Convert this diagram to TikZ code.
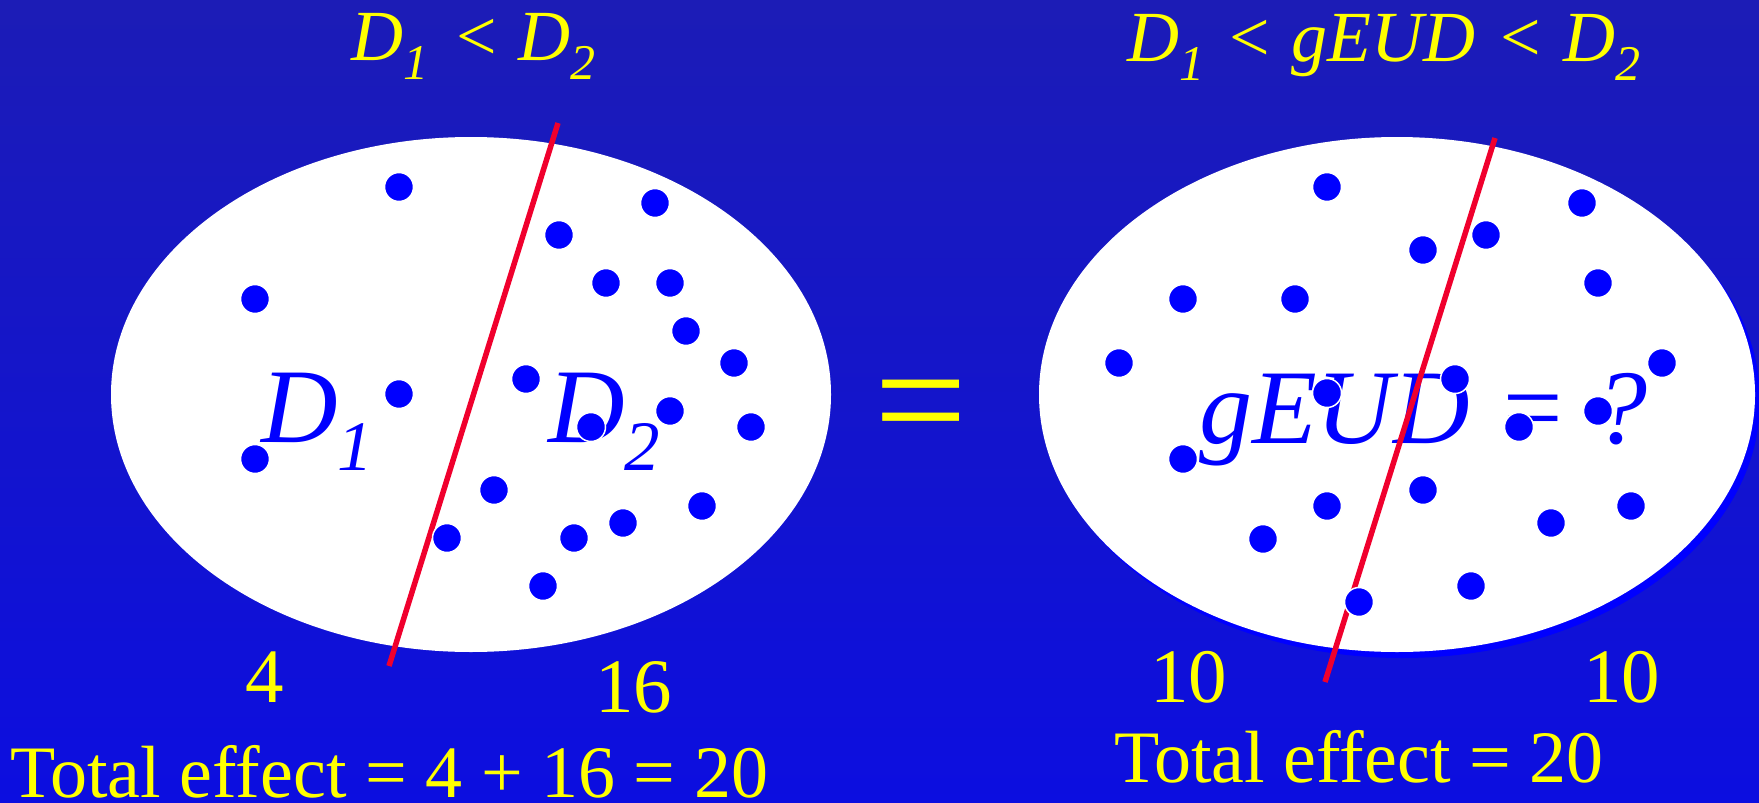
\documentclass[tikz,border=0pt]{standalone}
\usepackage{fontspec}
\setmainfont{Liberation Serif}
\usetikzlibrary{shapes.geometric}
\definecolor{bgtop}{RGB}{28,28,182}
\definecolor{bgmid}{RGB}{38,38,218}
\definecolor{bgbot}{RGB}{12,14,224}
\definecolor{dotblue}{RGB}{0,0,255}
\definecolor{redline}{RGB}{240,0,45}
\definecolor{yel}{RGB}{255,255,0}
\tikzset{
  blob/.style={ellipse, fill=white, minimum width=720pt, minimum height=515pt, inner sep=0pt},
  blobshadow/.style={ellipse, fill=dotblue, minimum width=716pt, minimum height=515pt, inner sep=0pt},
  dot/.style={circle, fill=dotblue, draw=white, line width=1.5pt, minimum size=29pt, inner sep=0pt},
  cutline/.style={draw=redline, line width=5.5pt},
  bigtxt/.style={anchor=base west, inner sep=0pt, text=dotblue, font=\fontsize{106}{110}\selectfont\itshape},
  ytxt/.style={anchor=base west, inner sep=0pt, text depth=0pt, text=yel, font=\fontsize{74}{80}\selectfont},
  numtxt/.style={anchor=base west, inner sep=0pt, text depth=0pt, text=yel, font=\fontsize{77}{80}\selectfont},
  ttl/.style={anchor=base west, inner sep=0pt, text=yel, font=\fontsize{72}{76}\selectfont}
}
\newcommand{\bigsub}[1]{\raisebox{-28pt}{\fontsize{71}{71}\selectfont\itshape #1}}
\newcommand{\ttlsub}[1]{\raisebox{-19pt}{\fontsize{50}{50}\selectfont\itshape #1}}
\newcommand{\lessgap}[2]{\hspace{#1}<\hspace{#2}}
\begin{document}
\begin{tikzpicture}[x=1pt,y=-1pt]
\useasboundingbox (0,0) rectangle (1759,803);
\shade[top color=bgtop, middle color=bgmid, bottom color=bgbot] (0,0) rectangle (1759,803);

% titles
\node[ttl] (t1) at (351,60) {\textit{D}\ttlsub{1}\lessgap{28pt}{22pt}\textit{D}\ttlsub{2}};
\node[ttl] (t2) at (1127,61) {\textit{D}\ttlsub{1}\lessgap{25pt}{22pt}\textit{gEUD}\lessgap{25pt}{22pt}\textit{D}\ttlsub{2}};

% ellipses
\node[blob] (e1) at (471,394.5) {};
\node[blobshadow] (e2s) at (1402,400.5) {};
\node[blob, minimum width=716pt] (e2) at (1397,394.5) {};

% big labels
\node[bigtxt] (d1) at (261,442) {D\bigsub{1}};
\node[bigtxt] (d2) at (548,442) {D\bigsub{2}};
\node[bigtxt] (geud) at (1199,443) {gEUD = ?};

% equals sign
\node[anchor=base, inner sep=0pt, text=yel, font=\fontsize{165}{170}\selectfont] (eq) at (921.5,455) {=};

% red lines
\coordinate (r1a) at (558,123);
\coordinate (r1b) at (389,666);
\coordinate (r2a) at (1495,138);
\coordinate (r2b) at (1325,682);
\draw[cutline] (r1a) -- (r1b);
\draw[cutline] (r2a) -- (r2b);

% left dots (4 | 16)
\foreach \p [count=\i] in {(399,187),(255,299),(399,394),(255,459),
  (655,203),(559,235),(606,283),(670,283),(686,331),(734,363),(526,379),(591,427),
  (670,411),(751,427),(494,490),(447,538),(574,538),(623,523),(702,506),(543,586)}
  \node[dot] (ld\i) at \p {};

% right dots
\foreach \p [count=\i] in {(1327,187),(1183,299),(1295,299),(1423,250),(1486,235),(1582,203),
  (1598,283),(1119,363),(1662,363),(1455,379),(1327,393),(1598,411),(1519,427),(1183,459),
  (1327,506),(1423,490),(1263,539),(1551,523),(1631,506),(1471,586),(1359,602)}
  \node[dot] (rd\i) at \p {};

% numbers
\node[numtxt] (n4) at (245,702) {4};
\node[numtxt] (n16) at (595,712) {16};
\node[numtxt] (n10a) at (1150,702) {10};
\node[numtxt] (n10b) at (1583,702) {10};

% totals
\node[ytxt] (tot1) at (10,797) {Total effect = 4 + 16 = 20};
\node[ytxt] (tot2) at (1114,782) {Total effect = 20};
\end{tikzpicture}
\end{document}
